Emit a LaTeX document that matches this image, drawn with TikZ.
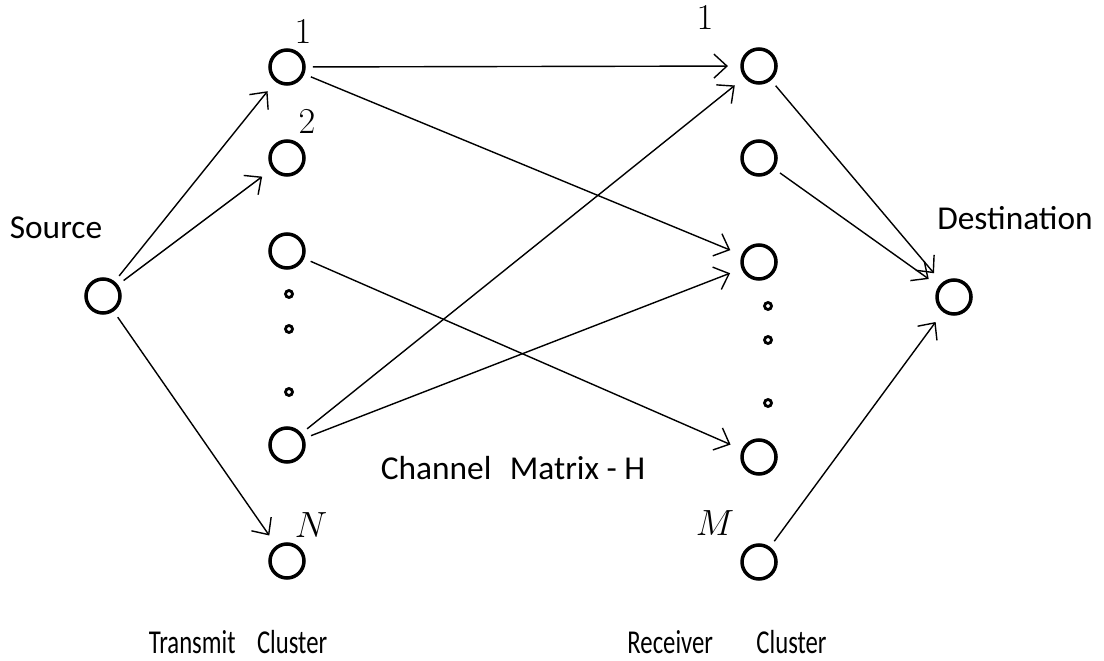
\documentclass[tikz,border=0pt]{standalone}
\usepackage{fontspec}
\setmainfont{Carlito}
\usepackage{amsmath}
\usetikzlibrary{positioning, arrows.meta}

\begin{document}
\begin{tikzpicture}[x=0.02cm, y=-0.02cm,
  no/.style={circle, draw, line width=2pt, inner sep=0pt, minimum size=0.68cm},
  ponto/.style={circle, draw, line width=1.6pt, inner sep=0pt, minimum size=0.14cm},
  seta/.style={-{Straight Barb[length=2.6mm,width=4.8mm]}, line width=0.8pt, shorten <=4pt, shorten >=7pt},
  rotulo/.style={font=\fontsize{19}{22}\selectfont, inner sep=0pt},
  base/.style={rotulo, xscale=0.74},
  indice/.style={font=\huge, inner sep=0pt}]

\useasboundingbox (0,0) rectangle (1104,661);

% Fonte e destino
\node[no] (src) at (103,296) {};
\node[no] (dst) at (954,297) {};
\node[rotulo] (srclbl) at (56,228) {Source};
\node[rotulo] (dstlbl) at (1015,218) {Destination};

% Cluster de transmissao
\node[no] (t1) at (287,67) {};
\node[no] (t2) at (287,158) {};
\node[no] (t3) at (287,251) {};
\node[no] (t4) at (287,445) {};
\node[no] (tN) at (287,561) {};
\node[ponto] (tp1) at (289,294) {};
\node[ponto] (tp2) at (289,329) {};
\node[ponto] (tp3) at (289,392) {};
\node[indice] (lt1) at (303,32) {$1$};
\node[indice] (lt2) at (307,122) {$2$};
\node[indice] (ltN) at (311,525) {$N$};

% Cluster de recepcao
\node[no] (r1) at (759,66) {};
\node[no] (r2) at (759,158) {};
\node[no] (r3) at (759,262) {};
\node[no] (r4) at (759,457) {};
\node[no] (rM) at (759,562) {};
\node[ponto] (rp1) at (768,306) {};
\node[ponto] (rp2) at (768,340) {};
\node[ponto] (rp3) at (768,403) {};
\node[indice] (lr1) at (705,18) {$1$};
\node[indice] (lrM) at (715,523) {$M$};

% Textos
\node[rotulo] (canal) at (513,468) {Channel\hspace{0.55em}Matrix - H};
\node[base] (tx) at (238,642) {Transmit\hspace{0.87em}Cluster};
\node[base] (rx) at (727,642) {Receiver\hspace{1.76em}Cluster};

% Setas da fonte
\draw[seta] (src) -- (t1);
\draw[seta] (src) -- (t2);
\draw[seta] (src) -- (tN);

% Matriz de canal
\draw[seta] (t1) -- (r1);
\draw[seta] (t1) -- (r3);
\draw[seta] (t3) -- (r4);
\draw[seta] (t4) -- (r1);
\draw[seta] (t4) -- (r3);

% Setas para o destino
\draw[seta] (r1) -- (dst);
\draw[seta] (r2) -- (dst);
\draw[seta] (rM) -- (dst);

\end{tikzpicture}
\end{document}
